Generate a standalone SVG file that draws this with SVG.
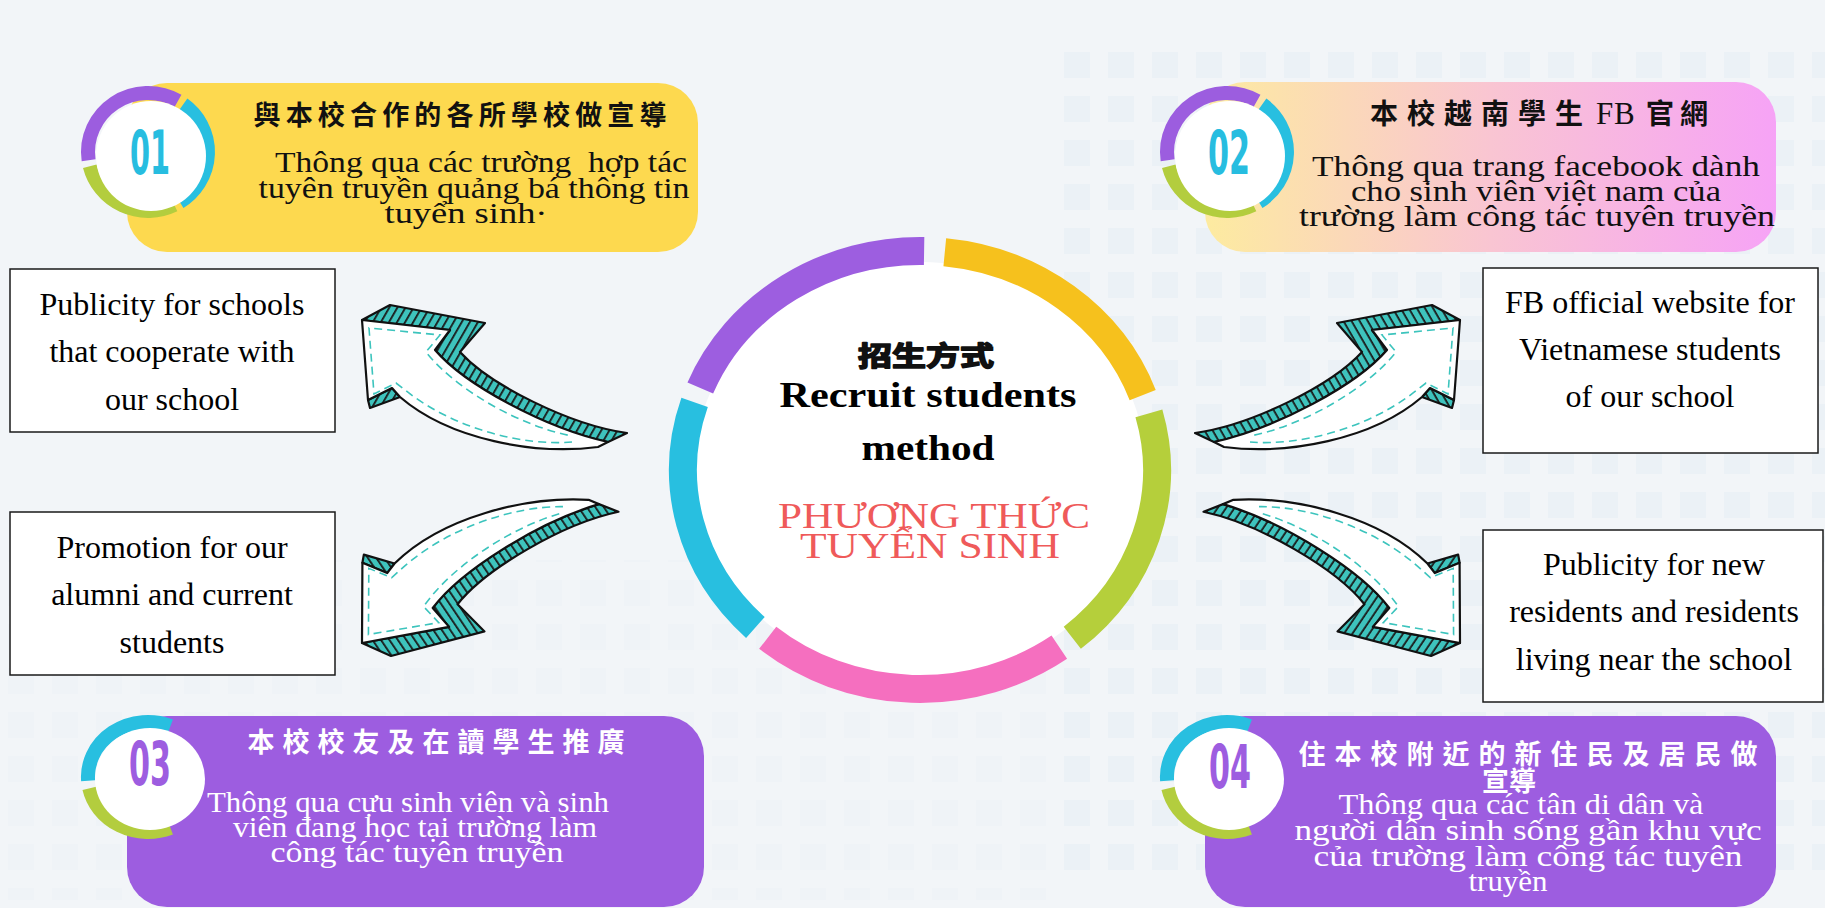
<svg xmlns="http://www.w3.org/2000/svg" width="1825" height="908" viewBox="0 0 1825 908">
<defs>
<style>
.cjk{font-family:"Noto Sans CJK TC","Noto Sans CJK SC",sans-serif;font-weight:700;text-anchor:middle;font-size:27px;}
.vn{font-family:"Liberation Serif","Times New Roman",serif;font-size:29px;text-anchor:middle;}
.lbl{font-family:"Liberation Serif","Times New Roman",serif;font-size:32px;fill:#000;text-anchor:middle;}
.num{font-family:"Liberation Sans Narrow","DejaVu Sans Condensed","Liberation Sans",sans-serif;font-weight:700;font-size:60px;text-anchor:middle;}
.box{fill:#fff;stroke:#1a1a1a;stroke-width:1.5;}
.seg{fill:none;stroke-width:28;}
.bseg{fill:none;stroke-width:14;}
.dark{fill:#111;}
.white{fill:#fff;}
.ol{stroke:#111;stroke-width:2.2;stroke-linejoin:round;}
</style>
<linearGradient id="g02" x1="0" y1="0" x2="1" y2="0">
<stop offset="0" stop-color="#fdeba0"/>
<stop offset="0.5" stop-color="#f9c5d2"/>
<stop offset="1" stop-color="#f6a3f6"/>
</linearGradient>
<pattern id="hatch" width="7" height="7" patternUnits="userSpaceOnUse" patternTransform="rotate(30)">
<rect width="7" height="7" fill="#3ec3bd"/>
<rect width="1.8" height="7" fill="#1a1a1a"/>
</pattern>
<pattern id="tiles" width="44" height="44" patternUnits="userSpaceOnUse">
<rect x="8" y="8" width="26" height="26" fill="#e2ebf4"/>
</pattern>
<g id="arrow">
<path class="ol" d="M362,320 L390,305 L485,323 L460,352 C490,385 570,425 627,433 L608,442 C545,428 465,385 435,350 L450,330 Z" fill="url(#hatch)"/>
<path class="ol" d="M368,400 L370,408 L400,397 L392,388 Z" fill="url(#hatch)"/>
<path class="ol" d="M362,320 L450,330 L435,350 C465,385 545,428 608,442 L598,447 C535,455 450,440 400,397 L392,388 L368,400 Z" fill="#fff"/>
<path d="M572,442 C525,446 455,430 405,390 L396,383 L374,394 L369,328 L440,335 L426,352 C456,390 520,426 572,436" fill="none" stroke="#3cc4bd" stroke-width="1.6" stroke-dasharray="8 5"/>
</g>
<g id="badgeA">
<path class="bseg" stroke="#9c5ddf" d="M-59.4,8.2 A60 59 0 0 1 30,-51.1"/>
<path class="bseg" stroke="#28bfe0" d="M35.3,-47.7 A60 59 0 0 1 31.8,50"/>
<path class="bseg" stroke="#b3cd3e" d="M26.3,53 A60 59 0 0 1 -58.2,14.3"/>
<circle cx="3" cy="4" r="55" fill="#fff"/>
</g>
<g id="badgeB">
<path class="bseg" stroke="#28bfe0" d="M-59.9,3.8 A60 55 0 0 1 22.5,-51"/>
<path class="bseg" stroke="#b3cd3e" d="M22.5,51 A60 55 0 0 1 -58.7,11.4"/>
<ellipse cx="2" cy="2" rx="55" ry="51" fill="#fff"/>
</g>
</defs>

<rect width="1825" height="908" fill="#f2f5f8"/>
<rect x="1060" y="50" width="765" height="820" fill="url(#tiles)" opacity="0.45"/>
<rect x="0" y="560" width="1060" height="340" fill="url(#tiles)" opacity="0.2"/>

<g id="center">
<ellipse cx="920" cy="470" rx="226" ry="208" fill="#fff"/>
<path class="seg" stroke="#9d5ee0" d="M700.3,388 A237 219 0 0 1 924.1,251"/>
<path class="seg" stroke="#f6c11d" d="M944.8,252.2 A237 219 0 0 1 1142.7,395.1"/>
<path class="seg" stroke="#b5cf3b" d="M1148.9,413.3 A237 219 0 0 1 1072.3,637.8"/>
<path class="seg" stroke="#f56fbf" d="M1059.3,647.2 A237 219 0 0 1 767.7,637.8"/>
<path class="seg" stroke="#28bfe0" d="M755.4,627.5 A237 219 0 0 1 694.6,402.3"/>
<text class="cjk" x="926" y="366" font-size="38" font-weight="900" textLength="136" lengthAdjust="spacingAndGlyphs" fill="#111" stroke="#111" stroke-width="1.6" stroke-linejoin="round">招生方式</text>
<text x="928" y="407" font-family="Liberation Serif, Times New Roman, serif" font-weight="700" font-size="36" text-anchor="middle" textLength="297" lengthAdjust="spacingAndGlyphs" fill="#000">Recruit students</text>
<text x="928" y="460" font-family="Liberation Serif, Times New Roman, serif" font-weight="700" font-size="36" text-anchor="middle" textLength="133" lengthAdjust="spacingAndGlyphs" fill="#000">method</text>
<text x="934" y="528" font-family="Liberation Serif, Times New Roman, serif" font-size="35" text-anchor="middle" textLength="312" lengthAdjust="spacingAndGlyphs" fill="#ef5a5a">PHƯƠNG THỨC</text>
<text x="930" y="558" font-family="Liberation Serif, Times New Roman, serif" font-size="35" text-anchor="middle" textLength="260" lengthAdjust="spacingAndGlyphs" fill="#ef5a5a">TUYỂN SINH</text>
</g>

<g id="connectors">
<use href="#arrow"/>
<use href="#arrow" transform="translate(1822,0) scale(-1,1)"/>
<use href="#arrow" transform="rotate(-4 362 643) translate(0,963) scale(1,-1)"/>
<use href="#arrow" transform="translate(1822,0) scale(-1,1) rotate(-4 362 643) translate(0,963) scale(1,-1)"/>
</g>

<g id="labelA">
<rect class="box" x="10" y="269" width="325" height="163"/>
<text class="lbl" x="172" y="315">Publicity for schools</text>
<text class="lbl" x="172" y="362">that cooperate with</text>
<text class="lbl" x="172" y="410">our school</text>
</g>
<g id="labelB">
<rect class="box" x="10" y="512" width="325" height="163"/>
<text class="lbl" x="172" y="558">Promotion for our</text>
<text class="lbl" x="172" y="605">alumni and current</text>
<text class="lbl" x="172" y="653">students</text>
</g>
<g id="labelC">
<rect class="box" x="1483" y="268" width="335" height="185"/>
<text class="lbl" x="1650" y="313">FB official website for</text>
<text class="lbl" x="1650" y="360">Vietnamese students</text>
<text class="lbl" x="1650" y="407">of our school</text>
</g>
<g id="labelD">
<rect class="box" x="1483" y="530" width="340" height="172"/>
<text class="lbl" x="1654" y="575">Publicity for new</text>
<text class="lbl" x="1654" y="622">residents and residents</text>
<text class="lbl" x="1654" y="670">living near the school</text>
</g>

<g id="box01">
<rect x="127" y="83" width="571" height="169" rx="40" fill="#fdd94f"/>
<use href="#badgeA" x="148" y="152"/>
<text class="num" x="150" y="174" textLength="40" lengthAdjust="spacingAndGlyphs" fill="#27bde0">01</text>
<text class="cjk dark" x="460" y="125" textLength="413" lengthAdjust="spacing">與本校合作的各所學校做宣導</text>
<text class="vn dark" x="481" y="172" textLength="412" lengthAdjust="spacingAndGlyphs" xml:space="preserve">Thông qua các trường  hợp tác</text>
<text class="vn dark" x="474" y="198" textLength="431" lengthAdjust="spacingAndGlyphs">tuyên truyền quảng bá thông tin</text>
<text class="vn dark" x="466" y="223" textLength="163" lengthAdjust="spacingAndGlyphs">tuyển sinh·</text>
</g>

<g id="box02">
<rect x="1205" y="82" width="571" height="170" rx="40" fill="url(#g02)"/>
<use href="#badgeA" x="1227" y="152"/>
<text class="num" x="1229" y="174" textLength="42" lengthAdjust="spacingAndGlyphs" fill="#27bde0">02</text>
<text class="dark" font-family="Noto Sans CJK TC, Noto Sans CJK SC, sans-serif" font-weight="700" font-size="28" y="124" x="1370 1407 1444 1481 1518 1555 1596 1614 1646 1680">本校越南學生<tspan font-family="Liberation Serif, Times New Roman, serif" font-weight="400" font-size="31">FB</tspan>官網</text>
<text class="vn dark" x="1536" y="176" textLength="448" lengthAdjust="spacingAndGlyphs">Thông qua trang facebook dành</text>
<text class="vn dark" x="1536" y="201" textLength="370" lengthAdjust="spacingAndGlyphs">cho sinh viên việt nam của</text>
<text class="vn dark" x="1537" y="226" textLength="476" lengthAdjust="spacingAndGlyphs">trường làm công tác tuyên truyền</text>
</g>

<g id="box03">
<rect x="127" y="716" width="577" height="191" rx="40" fill="#9d5de0"/>
<use href="#badgeB" x="148" y="777"/>
<text class="num" x="150" y="785" textLength="42" lengthAdjust="spacingAndGlyphs" fill="#9d5de0">03</text>
<text class="cjk white" x="436" y="752" textLength="377" lengthAdjust="spacing">本校校友及在讀學生推廣</text>
<text class="vn white" x="408" y="812" textLength="402" lengthAdjust="spacingAndGlyphs">Thông qua cựu sinh viên và sinh</text>
<text class="vn white" x="415" y="837" textLength="364" lengthAdjust="spacingAndGlyphs">viên đang học tại trường làm</text>
<text class="vn white" x="417" y="862" textLength="293" lengthAdjust="spacingAndGlyphs">công tác tuyên truyền</text>
</g>

<g id="box04">
<rect x="1205" y="716" width="571" height="191" rx="40" fill="#9d5de0"/>
<use href="#badgeB" x="1227" y="777"/>
<text class="num" x="1230" y="788" textLength="42" lengthAdjust="spacingAndGlyphs" fill="#9d5de0">04</text>
<text class="cjk white" x="1528" y="764" font-size="24" textLength="459" lengthAdjust="spacing">住本校附近的新住民及居民做</text>
<text class="cjk white" x="1509" y="791" font-size="24" textLength="54" lengthAdjust="spacing">宣導</text>
<text class="vn white" x="1521" y="814" textLength="365" lengthAdjust="spacingAndGlyphs">Thông qua các tân di dân và</text>
<text class="vn white" x="1528" y="840" textLength="467" lengthAdjust="spacingAndGlyphs">người dân sinh sống gần khu vực</text>
<text class="vn white" x="1528" y="866" textLength="429" lengthAdjust="spacingAndGlyphs">của trường làm công tác tuyên</text>
<text class="vn white" x="1508" y="891" textLength="79" lengthAdjust="spacingAndGlyphs">truyền</text>
</g>
</svg>
